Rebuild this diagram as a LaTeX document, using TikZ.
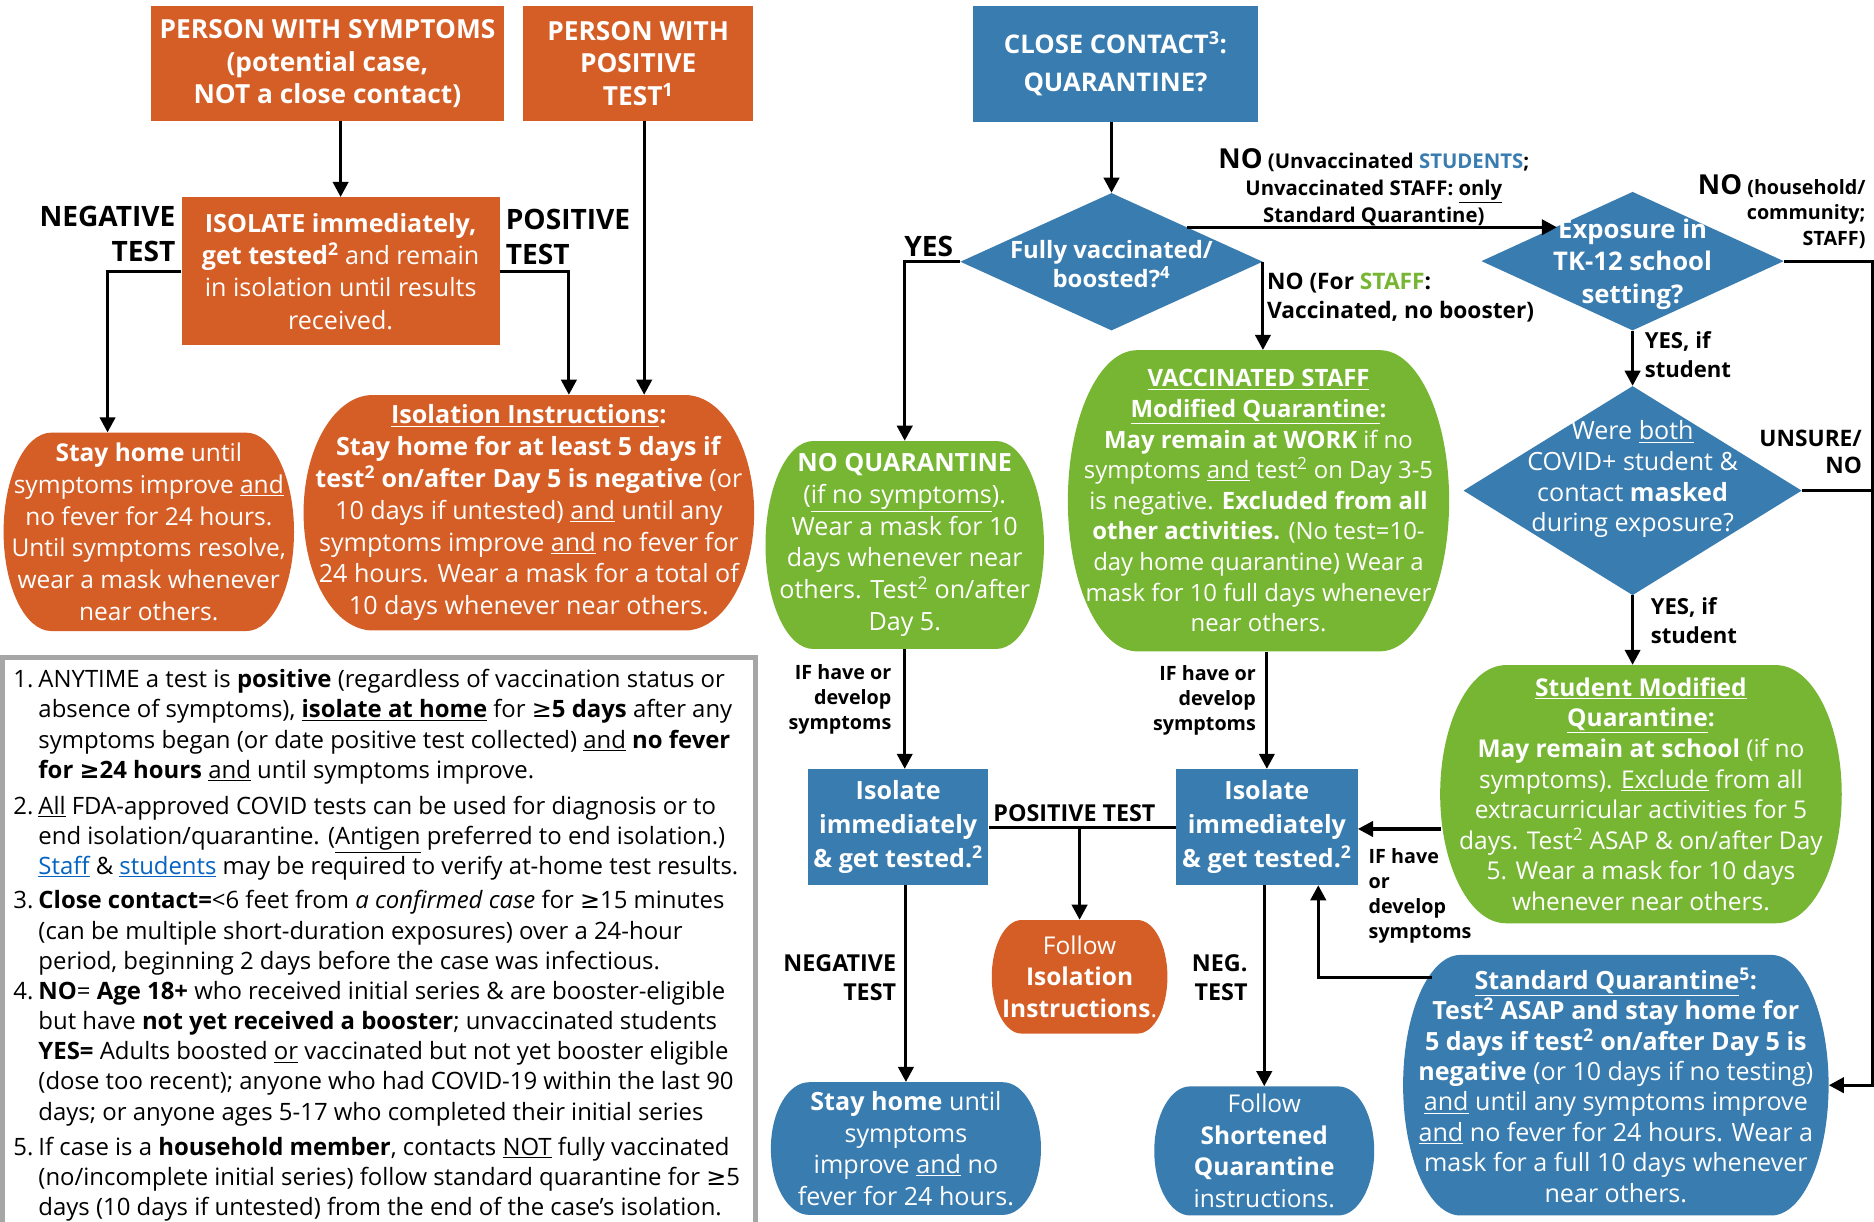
\documentclass[tikz,border=0pt]{standalone}
\usepackage{fontspec}
\setmainfont{Open Sans}
\newfontfamily\symfont{DejaVu Sans}
\usetikzlibrary{calc, arrows.meta, shapes.geometric}

\definecolor{orng}{RGB}{213,94,38}
\definecolor{blu}{RGB}{57,124,176}
\definecolor{grn}{RGB}{118,182,50}
\definecolor{lnk}{RGB}{5,99,193}
\definecolor{fngray}{RGB}{166,166,166}

\newcommand{\uln}[1]{\underline{#1}}
\newcommand{\gesym}{{\symfont ≥}}
\newcommand{\hdrfont}{\fontsize{22}{27}\selectfont\bfseries}
\newcommand{\bodyfont}{\fontsize{21}{26.6}\selectfont}
\newcommand{\notefont}{\fontsize{20}{25.2}\selectfont}
\newcommand{\biglbl}{\fontsize{23.5}{29}\selectfont\bfseries}
\newcommand{\midlbl}{\fontsize{19.5}{24}\selectfont\bfseries}
\newcommand{\smalllbl}{\fontsize{16.5}{21}\selectfont\bfseries}

\begin{document}
\begin{tikzpicture}[x=1pt, y=-1pt,
    sidebulge/.store in=\bulge, sidebulge=40pt,
    box/.style={fill=#1, inner sep=0pt, align=center, text=white, font=\bodyfont},
    barrel/.style={inner sep=0pt, align=center, text=white, font=\bodyfont,
      path picture={\fill[#1] let \p1=(path picture bounding box.south west),
          \p2=(path picture bounding box.north east) in
          (\x1+\bulge,\y2) -- (\x2-\bulge,\y2)
          arc[start angle=90, end angle=-90, x radius=\bulge, y radius=(\y2-\y1)/2]
          -- (\x1+\bulge,\y1)
          arc[start angle=270, end angle=90, x radius=\bulge, y radius=(\y2-\y1)/2] -- cycle;}},
    dia/.style={diamond, fill=blu, inner sep=0pt},
    diatext/.style={inner sep=0pt, align=center, text=white},
    lbl/.style={inner sep=0pt},
    arr/.style={-{Triangle[length=12.6pt, width=12.8pt]}, line width=2.6pt},
    link/.style={line width=2.6pt}]
  \fill[white] (0,0) rectangle (1568,1022);
  \useasboundingbox (0,0) rectangle (1568,1022);

  % left column: symptoms / positive test
  \node[box=orng, font=\hdrfont, minimum width=296, minimum height=96, text depth=3pt] (symp) at (274,53)
    {PERSON WITH SYMPTOMS\\(potential case,\\NOT a close contact)};
  \node[box=orng, font=\hdrfont, minimum width=192, minimum height=96] (postest) at (534,53)
    {PERSON WITH\\POSITIVE\\TEST\textsuperscript{1}};
  \node[box=orng, font=\fontsize{21}{27}\selectfont, minimum width=266, minimum height=124] (isolate) at (285,227)
    {\textbf{ISOLATE immediately,}\\\textbf{get tested\textsuperscript{2}} and remain\\in isolation until results\\received.};
  \node[barrel=orng, sidebulge=40pt, minimum width=243, minimum height=166, font=\fontsize{20.5}{26.6}\selectfont] (stayhome) at (124.5,445)
    {\textbf{Stay home} until\\symptoms improve \uln{and}\\no fever for 24 hours.\\Until symptoms resolve,\\wear a mask whenever\\near others.};
  \node[barrel=orng, sidebulge=58pt, minimum width=377, minimum height=197] (isoinstr) at (442.5,429)
    {\textbf{\uln{Isolation Instructions}:}\\\textbf{Stay home for at least 5 days if}\\\textbf{test\textsuperscript{2} on/after Day 5 is negative} (or\\10 days if untested) \uln{and} until any\\symptoms improve \uln{and} no fever for\\24 hours. Wear a mask for a total of\\10 days whenever near others.};

  \node[lbl, font=\biglbl, align=right, anchor=east] (neglbl) at (147,196) {NEGATIVE\\TEST};
  \node[lbl, font=\biglbl, align=left, anchor=west] (poslbl) at (423,198) {POSITIVE\\TEST};

  % close contact column
  \node[box=blu, font=\fontsize{21.5}{32}\selectfont\bfseries, minimum width=239, minimum height=97] (closecon) at (933.3,53.4)
    {CLOSE CONTACT\textsuperscript{3}:\\QUARANTINE?};
  \node[dia, minimum width=253, minimum height=115] (fullyvax) at (930,219) {};
  \node[diatext, font=\fontsize{20}{25}\selectfont\bfseries] (fullytxt) at (930,221) {Fully vaccinated/\\boosted?\textsuperscript{4}};
  \node[dia, minimum width=253, minimum height=116] (exposure) at (1366,218.5) {};
  \node[diatext, font=\fontsize{21.5}{27}\selectfont\bfseries] (exposuretxt) at (1366,221) {Exposure in\\TK-12 school\\setting?};
  \node[dia, minimum width=283, minimum height=175] (masked) at (1366,410.5) {};
  \node[diatext, font=\fontsize{21}{25.6}\selectfont] (maskedtxt) at (1366,401)
    {Were \uln{both}\\COVID+ student \&\\contact \textbf{masked}\\during exposure?};

  \node[barrel=grn, sidebulge=40pt, minimum width=233, minimum height=174] (noquar) at (757,456)
    {\textbf{NO QUARANTINE}\\(\uln{if no symptoms}).\\Wear a mask for 10\\days whenever near\\others. Test\textsuperscript{2} on/after\\Day 5.};
  \node[barrel=grn, sidebulge=58pt, minimum width=319, minimum height=252, font=\fontsize{20}{25.6}\selectfont] (vaxstaff) at (1053,419)
    {\textbf{\uln{VACCINATED STAFF}}\\\textbf{\uln{Modified Quarantine}:}\\\textbf{May remain at WORK} if no\\symptoms \uln{and} test\textsuperscript{2} on Day 3-5\\is negative. \textbf{Excluded from all}\\\textbf{other activities.} (No test=10-\\day home quarantine) Wear a\\mask for 10 full days whenever\\near others.};
  \node[box=blu, font=\fontsize{21}{28.5}\selectfont\bfseries, minimum width=151, minimum height=97] (isolA) at (751.5,692)
    {Isolate\\immediately\\\& get tested.\textsuperscript{2}};
  \node[box=blu, font=\fontsize{21}{28.5}\selectfont\bfseries, minimum width=152, minimum height=97] (isolB) at (1060,692)
    {Isolate\\immediately\\\& get tested.\textsuperscript{2}};
  \node[barrel=orng, sidebulge=25pt, minimum width=147, minimum height=95, font=\fontsize{20.5}{26.5}\selectfont] (followiso) at (903.3,817.3)
    {Follow\\\textbf{Isolation}\\\textbf{Instructions}.};
  \node[barrel=blu, sidebulge=32pt, minimum width=226, minimum height=111] (stayblue) at (758,961)
    {\textbf{Stay home} until\\symptoms\\improve \uln{and} no\\fever for 24 hours.};
  \node[barrel=blu, sidebulge=30pt, minimum width=184, minimum height=108, font=\fontsize{20.5}{26.5}\selectfont] (shortq) at (1057.8,963)
    {Follow\\\textbf{Shortened}\\\textbf{Quarantine}\\instructions.};

  % school column
  \node[barrel=grn, sidebulge=55pt, minimum width=336, minimum height=216, font=\fontsize{20.5}{25.6}\selectfont] (studmod) at (1373,664.5)
    {\textbf{\uln{Student Modified}}\\\textbf{\uln{Quarantine}:}\\\textbf{May remain at school} (if no\\symptoms). \uln{Exclude} from all\\extracurricular activities for 5\\days. Test\textsuperscript{2} ASAP \& on/after Day\\5. Wear a mask for 10 days\\whenever near others.};
  \node[barrel=blu, sidebulge=48pt, minimum width=356, minimum height=218, font=\fontsize{21}{25.4}\selectfont] (stdquar) at (1352,908)
    {\textbf{\uln{Standard Quarantine}\textsuperscript{5}:}\\\textbf{Test\textsuperscript{2} ASAP and stay home for}\\\textbf{5 days if test\textsuperscript{2} on/after Day 5 is}\\\textbf{negative} (or 10 days if no testing)\\\uln{and} until any symptoms improve\\\uln{and} no fever for 24 hours. Wear a\\mask for a full 10 days whenever\\near others.};

  % labels
  \node[lbl, font=\biglbl] (yeslbl) at (777,206) {YES};
  \node[lbl, font=\fontsize{17}{22.5}\selectfont\bfseries, align=center] (nostud) at (1149.5,157)
    {{\fontsize{23}{22.5}\selectfont NO} (Unvaccinated \textcolor{blu}{STUDENTS};\\Unvaccinated STAFF: \uln{only}\\Standard Quarantine)};
  \node[lbl, font=\fontsize{19}{24}\selectfont\bfseries, align=left, anchor=west] (nostaff) at (1060,249)
    {NO (For \textcolor{grn}{STAFF}:\\Vaccinated, no booster)};
  \node[lbl, font=\fontsize{16.5}{21.5}\selectfont\bfseries, align=right, anchor=east] (nohouse) at (1561,177)
    {{\fontsize{23}{21.5}\selectfont NO} (household/\\community;\\STAFF)};
  \node[lbl, font=\fontsize{18.5}{24.5}\selectfont\bfseries, align=left, anchor=west] (yesA) at (1376,297) {YES, if\\student};
  \node[lbl, font=\fontsize{19}{23}\selectfont\bfseries, align=right, anchor=east] (unsure) at (1558,378) {UNSURE/\\NO};
  \node[lbl, font=\fontsize{18.5}{24.5}\selectfont\bfseries, align=left, anchor=west] (yesB) at (1381,519) {YES, if\\student};
  \node[lbl, font=\smalllbl, align=right, anchor=east] (sympA) at (746,585) {IF have or\\develop\\symptoms};
  \node[lbl, font=\smalllbl, align=right, anchor=east] (sympB) at (1051,586) {IF have or\\develop\\symptoms};
  \node[lbl, font=\smalllbl, align=left, anchor=west] (sympC) at (1145,749.5) {IF have\\or\\develop\\symptoms};
  \node[lbl, font=\midlbl] (posmid) at (899,680) {POSITIVE TEST};
  \node[lbl, font=\midlbl, align=right, anchor=east] (negA) at (750,818) {NEGATIVE\\TEST};
  \node[lbl, font=\midlbl, align=right, anchor=east] (negB) at (1044,818) {NEG.\\TEST};

  % connectors
  \coordinate (posdrop) at ([xshift=5pt]postest.south);
  \coordinate (rail) at (1567,218.5);
  \coordinate (studside) at (1206,693.6);
  \coordinate (stdside) at (1198,818);
  \draw[arr] (isolate.north |- symp.south) -- (isolate.north);
  \draw[arr] (posdrop) -- (posdrop |- isoinstr.north);
  \draw[arr] (isolate.west) -| ([xshift=-34.5pt]stayhome.north);
  \draw[arr] (isolate.east) -| ([xshift=33.5pt]isoinstr.north);
  \draw[arr] (fullyvax.north |- closecon.south) -- (fullyvax.north);
  \draw[arr] (fullyvax.west) -| (noquar.north);
  \draw[arr] (fullyvax.east) -- (fullyvax.east |- vaxstaff.north);
  \draw[arr] (fullyvax.north east) -- (fullyvax.north east -| exposure.north west);
  \draw[arr] (exposure.south) -- (masked.north);
  \draw[arr] (masked.south) -- (masked.south |- studmod.north);
  \draw[arr] (exposure.east) -- (rail) |- (stdquar.east);
  \draw[link] (masked.east) -- (masked.east -| rail);
  \draw[arr] (noquar.south) -- (noquar.south |- isolA.north);
  \draw[arr] (isolB.north |- vaxstaff.south) -- (isolB.north);
  \draw[link] (isolA.east) -- (isolB.west);
  \draw[arr] (followiso.north |- isolA.east) -- (followiso.north);
  \draw[arr] (stayblue.north |- isolA.south) -- (stayblue.north);
  \draw[arr] (shortq.north |- isolB.south) -- (shortq.north);
  \draw[arr] (studside) -- (studside -| isolB.east);
  \draw[arr] (stdside) -| ([xshift=43pt]isolB.south);

  % footnotes
  \draw[fngray, line width=4pt] (2,550) rectangle (632,1040);
  \node[lbl, font=\notefont, align=left, anchor=north west] (fnA) at (11,560)
    {\makebox[21pt][l]{1.}ANYTIME a test is \textbf{positive} (regardless of vaccination status or\\
     \hspace*{21pt}absence of symptoms), \textbf{\uln{isolate at home}} for \gesym\textbf{5 days} after any\\
     \hspace*{21pt}symptoms began (or date positive test collected) \uln{and} \textbf{no fever}\\
     \hspace*{21pt}\textbf{for \gesym24 hours} \uln{and} until symptoms improve.};
  \node[lbl, font=\notefont, align=left, anchor=north west] (fnB) at (11,666)
    {\makebox[21pt][l]{2.}\uln{All} FDA-approved COVID tests can be used for diagnosis or to\\
     \hspace*{21pt}end isolation/quarantine. (\uln{Antigen} preferred to end isolation.)\\
     \hspace*{21pt}\textcolor{lnk}{\uln{Staff}} \& \textcolor{lnk}{\uln{students}} may be required to verify at-home test results.};
  \node[lbl, font=\notefont, align=left, anchor=north west] (fnC) at (11,745)
    {\makebox[21pt][l]{3.}\textbf{Close contact=}<6 feet from \textit{a confirmed case} for \gesym15 minutes\\
     \hspace*{21pt}(can be multiple short-duration exposures) over a 24-hour\\
     \hspace*{21pt}period, beginning 2 days before the case was infectious.};
  \node[lbl, font=\notefont, align=left, anchor=north west] (fnD) at (11,821)
    {\makebox[21pt][l]{4.}\textbf{NO}= \textbf{Age 18+} who received initial series \& are booster-eligible\\
     \hspace*{21pt}but have \textbf{not yet received a booster}; unvaccinated students\\
     \hspace*{21pt}\textbf{YES=} Adults boosted \uln{or} vaccinated but not yet booster eligible\\
     \hspace*{21pt}(dose too recent); anyone who had COVID-19 within the last 90\\
     \hspace*{21pt}days; or anyone ages 5-17 who completed their initial series};
  \node[lbl, font=\notefont, align=left, anchor=north west] (fnE) at (11,951)
    {\makebox[21pt][l]{5.}If case is a \textbf{household member}, contacts \uln{NOT} fully vaccinated\\
     \hspace*{21pt}(no/incomplete initial series) follow standard quarantine for \gesym5\\
     \hspace*{21pt}days (10 days if untested) from the end of the case's isolation.};
\end{tikzpicture}
\end{document}
